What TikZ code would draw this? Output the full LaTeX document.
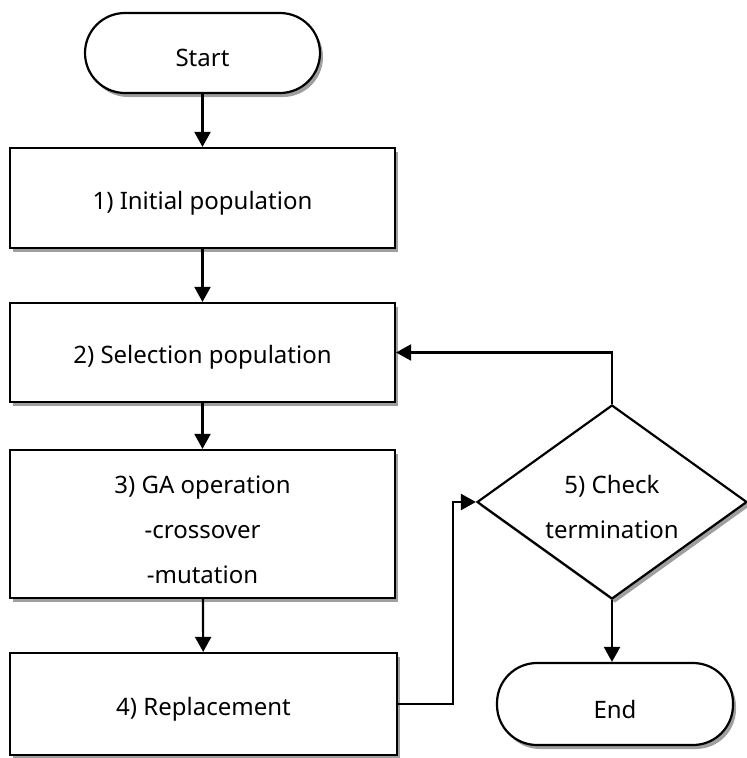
\documentclass[tikz,border=0pt]{standalone}
\usepackage{fontspec}
\setmainfont{Noto Sans}
\usetikzlibrary{shapes.geometric,shadows,arrows.meta}
\begin{document}
\begin{tikzpicture}[x=1pt,y=-1pt,
  base/.style={draw=black,line width=2.2pt,fill=white,inner sep=0pt,
    drop shadow={shadow xshift=3pt,shadow yshift=-4pt,fill=gray!75,opacity=1}},
  procbox/.style={base,rectangle,minimum width=385pt},
  termbox/.style={base,rectangle,rounded corners=40pt},
  decision/.style={base,diamond,minimum width=270pt,minimum height=194pt},
  txt/.style={align=center,inner sep=0pt,font=\fontsize{24}{45}\selectfont},
  flow/.style={line width=2.2pt,-{Triangle[length=15pt,width=16pt]}}]
\useasboundingbox (0,0) rectangle (747,758);
% terminals, process steps and the decision
\node[termbox,minimum width=235pt,minimum height=80pt] (start) at (202.5,53) {};
\node[procbox,minimum height=100pt] (init) at (202.5,198) {};
\node[procbox,minimum height=99pt] (sel) at (202.5,352.5) {};
\node[procbox,minimum height=148pt] (ga) at (202.5,524) {};
\node[procbox,minimum width=387pt,minimum height=102pt] (rep) at (203.5,704) {};
\node[decision] (chk) at (612,502) {};
\node[termbox,minimum width=236pt,minimum height=82pt] (end) at (615,704) {};
% their texts, set a little below the middle
\node[txt] (start-t) at ([yshift=-5pt]start.center) {Start};
\node[txt] (init-t) at ([yshift=-5pt]init.center) {1) Initial population};
\node[txt] (sel-t) at ([yshift=-5pt]sel.center) {2) Selection population};
\node[txt] (ga-t) at ([yshift=-6pt]ga.center) {3) GA operation\\-crossover\\-mutation};
\node[txt] (rep-t) at ([yshift=-5pt]rep.center) {4) Replacement};
\node[txt] (chk-t) at ([yshift=-5pt]chk.center) {5) Check\\termination};
\node[txt] (end-t) at ([yshift=-5pt]end.center) {End};
% connectors
\draw[flow] (start) -- (init);
\draw[flow] (init) -- (sel);
\draw[flow] (sel) -- (ga);
\draw[flow] (ga) -- (rep);
\draw[flow] (rep.east) -- ++(55,0) |- (chk.west);
\draw[flow] (chk.north) |- (sel.east);
\draw[flow] (chk.south) -- (chk.south |- end.north);
\end{tikzpicture}
\end{document}
